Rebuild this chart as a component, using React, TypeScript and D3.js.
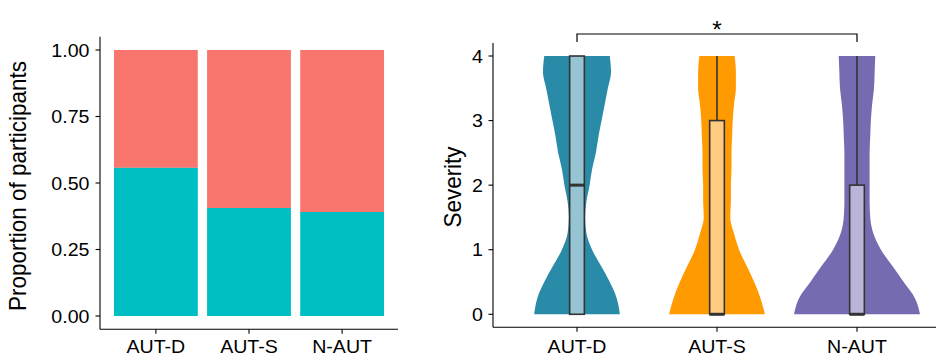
import React from "react";
import * as d3 from "d3";

// Groups shared by both panels
const groups = ["AUT-D", "AUT-S", "N-AUT"];

// Left panel: share of participants in the lower (teal) segment; the rest is red
const tealShare = [0.557, 0.406, 0.391];
const proportionTicks = [0, 0.25, 0.5, 0.75, 1];

// Right panel: violin density profiles sampled on a severity grid
const severityGrid = [0, 0.25, 0.5, 0.75, 1, 1.25, 1.5, 1.75, 2, 2.25, 2.5, 2.75, 3, 3.25, 3.5, 3.75, 4];
const densityAutD = [0.68, 0.63, 0.52, 0.38, 0.24, 0.15, 0.13, 0.15, 0.2, 0.24, 0.3, 0.34, 0.39, 0.44, 0.49, 0.54, 0.52];
const densityAutS = [0.76, 0.69, 0.59, 0.47, 0.35, 0.27, 0.21, 0.22, 0.22, 0.23, 0.23, 0.24, 0.25, 0.27, 0.3, 0.3, 0.28];
const densityNAut = [1.0, 0.92, 0.74, 0.56, 0.38, 0.26, 0.21, 0.2, 0.2, 0.2, 0.2, 0.21, 0.22, 0.24, 0.27, 0.28, 0.29];
const densities = [densityAutD, densityAutS, densityNAut];

// Box-plot summaries of severity per group
const severityMin = [0, 0, 0];
const severityQ1 = [0, 0, 0];
const severityMedian = [2, 0, 0];
const severityQ3 = [4, 3, 2];
const severityMax = [4, 4, 4];
const severityTicks = [0, 1, 2, 3, 4];

const barColors = { teal: "#00BFC4", red: "#F8766D" };
const violinFill = ["#2A8BA8", "#FF9A00", "#756BB1"];
const boxFill = ["#96C4D3", "#FFCB80", "#BAB5D8"];

const FONT = "'Liberation Sans', Arial, Helvetica, sans-serif";
const TICK_SIZE = 18.5;
const TITLE_SIZE = 22.5;
const STRETCH = 1.06;

function Label({ x, y, text, anchor = "middle", size = TICK_SIZE, rotate = false }: any) {
  const transform = rotate
    ? `translate(${x},${y}) rotate(-90) scale(1,${STRETCH})`
    : `translate(${x},${y}) scale(${STRETCH},1)`;
  return (
    <text transform={transform} textAnchor={anchor} fontFamily={FONT} fontSize={size} fill="#000">
      {text}
    </text>
  );
}

function BarPanel() {
  const x = d3.scaleLinear().domain([0.4, 3.6]).range([100, 398]);
  const y = d3.scaleLinear().domain([-0.05, 1.05]).range([329.3, 36.7]);
  const step = x(2) - x(1);
  const bw = step * 0.9;
  return (
    <g>
      {groups.map((g, i) => {
        const cx = x(i + 1);
        return (
          <g key={g}>
            <rect x={cx - bw / 2} y={y(1)} width={bw} height={y(tealShare[i]) - y(1)} fill={barColors.red} />
            <rect x={cx - bw / 2} y={y(tealShare[i])} width={bw} height={y(0) - y(tealShare[i])} fill={barColors.teal} />
          </g>
        );
      })}
      <line x1={100} x2={100} y1={y.range()[1]} y2={y.range()[0]} stroke="#000" strokeWidth={1.1} />
      <line x1={100} x2={398} y1={y.range()[0]} y2={y.range()[0]} stroke="#000" strokeWidth={1.1} />
      {proportionTicks.map((t) => (
        <g key={t}>
          <line x1={95.5} x2={100} y1={y(t)} y2={y(t)} stroke="#000" strokeWidth={1.1} />
          <Label x={89.5} y={y(t) + 6.6} text={t.toFixed(2)} anchor="end" />
        </g>
      ))}
      {groups.map((g, i) => (
        <g key={g}>
          <line x1={x(i + 1)} x2={x(i + 1)} y1={y.range()[0]} y2={y.range()[0] + 4.5} stroke="#000" strokeWidth={1.1} />
          <Label x={x(i + 1)} y={353} text={g} />
        </g>
      ))}
      <Label x={26} y={186} text="Proportion of participants" size={TITLE_SIZE} rotate />
    </g>
  );
}

function ViolinPanel() {
  const x = d3.scaleLinear().domain([0.4, 3.6]).range([493, 941]);
  const y = d3.scaleLinear().domain([-0.2, 4.2]).range([327.2, 43.1]);
  const step = x(2) - x(1);
  const halfMax = step * 0.45;
  const boxW = step * 0.105;
  const axisY = y.range()[0];
  return (
    <g>
      {groups.map((g, i) => {
        const cx = x(i + 1);
        const pts = severityGrid.map((s, k) => ({ s, d: densities[i][k] }));
        const area = d3
          .area<any>()
          .y((p) => y(p.s))
          .x0((p) => cx - p.d * halfMax)
          .x1((p) => cx + p.d * halfMax)
          .curve(d3.curveMonotoneY);
        return <path key={g} d={area(pts) || ""} fill={violinFill[i]} />;
      })}
      {groups.map((g, i) => {
        const cx = x(i + 1);
        return (
          <g key={g} stroke="#333333" strokeWidth={1.6}>
            <line x1={cx} x2={cx} y1={y(severityQ3[i])} y2={y(severityMax[i])} />
            <line x1={cx} x2={cx} y1={y(severityMin[i])} y2={y(severityQ1[i])} />
            <rect
              x={cx - boxW / 2}
              y={y(severityQ3[i])}
              width={boxW}
              height={y(severityQ1[i]) - y(severityQ3[i])}
              fill={boxFill[i]}
            />
            <line x1={cx - boxW / 2} x2={cx + boxW / 2} y1={y(severityMedian[i])} y2={y(severityMedian[i])} strokeWidth={3} />
          </g>
        );
      })}
      <line x1={493} x2={493} y1={y.range()[1]} y2={axisY} stroke="#000" strokeWidth={1.1} />
      <line x1={493} x2={936} y1={axisY} y2={axisY} stroke="#000" strokeWidth={1.1} />
      {severityTicks.map((t) => (
        <g key={t}>
          <line x1={488.5} x2={493} y1={y(t)} y2={y(t)} stroke="#000" strokeWidth={1.1} />
          <Label x={483} y={y(t) + 6.6} text={String(t)} anchor="end" />
        </g>
      ))}
      {groups.map((g, i) => (
        <g key={g}>
          <line x1={x(i + 1)} x2={x(i + 1)} y1={axisY} y2={axisY + 4.5} stroke="#000" strokeWidth={1.1} />
          <Label x={x(i + 1)} y={353} text={g} />
        </g>
      ))}
      <Label x={461} y={187} text="Severity" size={TITLE_SIZE} rotate />
      {/* significance bracket between AUT-D and N-AUT */}
      <path
        d={`M${x(1)},42 V34 H${x(3)} V42`}
        fill="none"
        stroke="#000"
        strokeWidth={1.2}
      />
      <Label x={(x(1) + x(3)) / 2} y={38} text="*" size={23} />
    </g>
  );
}

export default function App() {
  return (
    <div style={{ position: "absolute", left: 0, top: 0 }}>
      <svg width={936} height={360} style={{ display: "block", background: "#fff" }}>
        <BarPanel />
        <ViolinPanel />
      </svg>
    </div>
  );
}
